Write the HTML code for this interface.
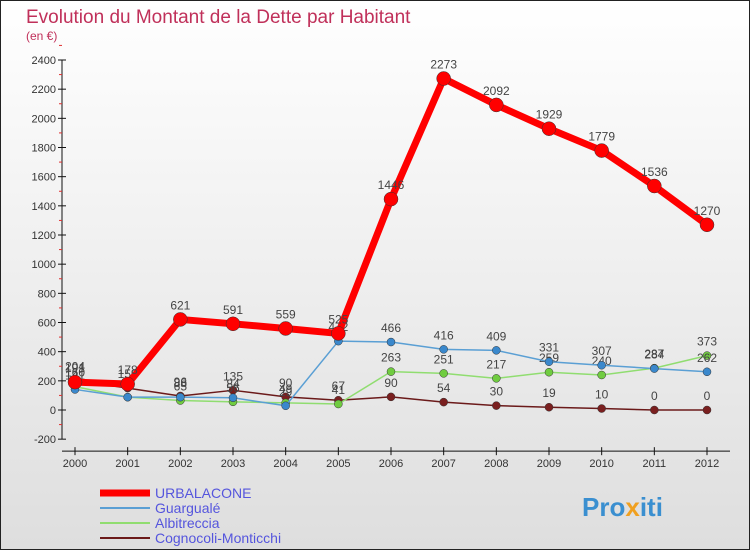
<!DOCTYPE html>
<html><head><meta charset="utf-8"><style>
body{margin:0;width:750px;height:550px;overflow:hidden;font-family:"Liberation Sans",sans-serif}
svg text{font-family:"Liberation Sans",sans-serif}
</style></head><body>
<svg id="c" width="750" height="550" xmlns="http://www.w3.org/2000/svg">
<defs><linearGradient id="bg" x1="0" y1="0" x2="0" y2="1"><stop offset="0" stop-color="#ffffff"/><stop offset="1" stop-color="#dedede"/></linearGradient></defs>
<rect x="0.5" y="0.5" width="749" height="549" fill="url(#bg)" stroke="#222"/>
<text x="26" y="23" font-size="19" fill="#c0305a">Evolution du Montant de la Dette par Habitant</text>
<text x="26" y="40" font-size="12" fill="#c0305a">(en €)</text>
<g id="axes"></g><g id="series"></g><g id="legend"></g>
<text x="582" y="516" font-size="26" font-weight="bold" fill="#3a8fd0">Pro<tspan fill="#f0a020">x</tspan>iti</text>
</svg>
<script>
const years=[2000,2001,2002,2003,2004,2005,2006,2007,2008,2009,2010,2011,2012];
const yTicks=[-200,0,200,400,600,800,1000,1200,1400,1600,1800,2000,2200,2400];
const urbalacone=[191,178,621,591,559,525,1446,2273,2092,1929,1779,1536,1270];
const guarguale=[141,88,88,84,29,472,466,416,409,331,307,284,262];
const albitreccia=[160,88,65,56,49,41,263,251,217,259,240,287,373];
const cognocoli=[204,150,96,135,90,67,90,54,30,19,10,0,0];
const names=["URBALACONE","Guargualé","Albitreccia","Cognocoli-Monticchi"];
const NS="http://www.w3.org/2000/svg";
const X=i=>75+i*(707-75)/12;
const Y=v=>410-v*350/2400;
function mk(t,a,p){const e=document.createElementNS(NS,t);for(const k in a)e.setAttribute(k,a[k]);p.appendChild(e);return e;}
const ax=document.getElementById('axes');
const axl=mk('line',{x1:62,x2:62,y1:Y(2400),y2:Y(-200),stroke:'#111'},ax);


yTicks.forEach(v=>{
 mk('line',{x1:58,x2:66,y1:Y(v),y2:Y(v),stroke:'#111'},ax);
 mk('line',{x1:59,x2:62,y1:Y(v+100),y2:Y(v+100),stroke:'#e03030'},ax);
 const t=mk('text',{x:56,y:Y(v)+4,'text-anchor':'end','font-size':11,fill:'#333'},ax);t.textContent=v;
 
 
});
const xl=mk('line',{x1:62,x2:730,y1:Y(-200)+12,y2:Y(-200)+12,stroke:'#111'},ax);


years.forEach((y,i)=>{
 mk('line',{x1:X(i),x2:X(i),y1:Y(-200)+8,y2:Y(-200)+16,stroke:'#111'},ax);
 const t=mk('text',{x:X(i),y:Y(-200)+28,'text-anchor':'middle','font-size':11,fill:'#333'},ax);t.textContent=y;
 
 
});
const sg=document.getElementById('series');
const cfg=[[cognocoli,'#6b1a1a','#7a1f1f',1.5,4,'cognocoli'],[albitreccia,'#90dd70','#70cc40',1.5,4,'albitreccia'],[guarguale,'#5a9fd4','#3a88cc',1.5,4,'guarguale'],[urbalacone,'#ff0000','#ff0000',7,7,'urbalacone']];
cfg.forEach(([d,lc,pc,w,r,n])=>{
 const g=mk('g',{},sg);
 
 
 const p=mk('polyline',{points:d.map((v,i)=>X(i)+','+Y(v)).join(' '),fill:'none',stroke:lc,'stroke-width':w,'stroke-linejoin':'round'},g);
 
 
 d.forEach((v,i)=>{
  const c=mk('circle',{cx:X(i),cy:Y(v),r:r,fill:pc,stroke:'#333','stroke-width':0.5},g);
  
  
  const t=mk('text',{x:X(i),y:Y(v)-10,'text-anchor':'middle','font-size':12,fill:'#444'},g);t.textContent=v;
  
  
 });
});
const lg=document.getElementById('legend');
const lcol=['#ff0000','#5a9fd4','#90dd70','#6b1a1a'],lw=[7,2,2,2];
names.forEach((nm,i)=>{
 const y=493+i*15;
 const l=mk('line',{x1:100,x2:150,y1:y,y2:y,stroke:lcol[i],'stroke-width':lw[i]},lg);
 
 
 const t=mk('text',{x:155,y:y+5,'font-size':14,fill:'#5555dd'},lg);t.textContent=nm;
 
 
});
</script>
</body></html>
